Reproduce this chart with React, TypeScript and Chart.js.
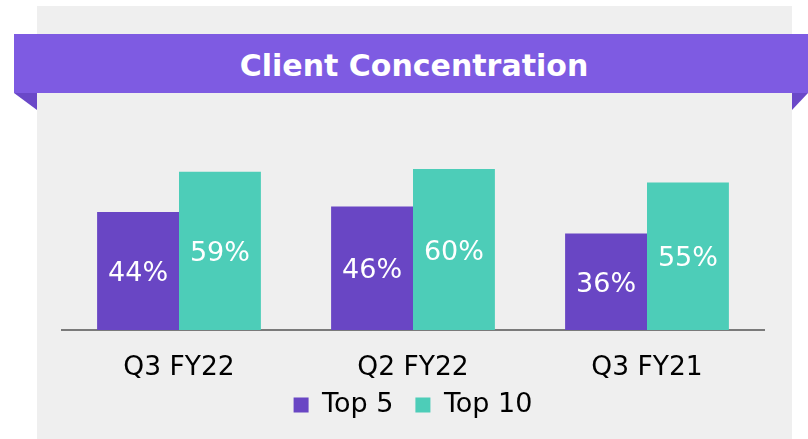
import React, { useEffect, useRef } from "react";
import { Chart, registerables } from "chart.js";

Chart.register(...registerables);

const categories = ["Q3 FY22", "Q2 FY22", "Q3 FY21"];
const top5 = [44, 46, 36];
const top10 = [59, 60, 55];
const seriesNames = ["Top 5", "Top 10"];
const title = "Client Concentration";

const PURPLE = "#6946C4";
const TEAL = "#4DCDB8";
const FONT = "'DejaVu Sans', Verdana, sans-serif";

const valueLabels = {
  id: "valueLabels",
  afterDatasetsDraw(chart: any) {
    const ctx = chart.ctx;
    ctx.save();
    ctx.fillStyle = "#ffffff";
    ctx.font = `27px ${FONT}`;
    ctx.textAlign = "center";
    ctx.textBaseline = "middle";
    chart.data.datasets.forEach((ds: any, di: number) => {
      const meta = chart.getDatasetMeta(di);
      meta.data.forEach((bar: any, i: number) => {
        const y = (bar.y + bar.base) / 2 + 3;
        ctx.fillText(`${ds.data[i]}%`, bar.x, y);
      });
    });
    ctx.restore();
  },
};

// category labels under the axis, positioned by the x scale
const categoryLabels = {
  id: "categoryLabels",
  afterDraw(chart: any) {
    const ctx = chart.ctx;
    const xs = chart.scales.x;
    ctx.save();
    ctx.fillStyle = "#000000";
    ctx.font = `26.5px ${FONT}`;
    ctx.textAlign = "center";
    ctx.textBaseline = "middle";
    (chart.data.labels as string[]).forEach((lab: string, i: number) => {
      ctx.fillText(lab, xs.getPixelForTick(i), chart.chartArea.bottom + 38);
    });
    ctx.restore();
  },
};

export default function App() {
  const ref = useRef<HTMLCanvasElement | null>(null);
  useEffect(() => {
    if (!ref.current) return;
    const LEG_PAD = 22;
    const chart = new Chart(ref.current, {
      type: "bar",
      data: {
        labels: categories,
        datasets: [
          { label: seriesNames[0], data: top5, backgroundColor: PURPLE, categoryPercentage: 0.7, barPercentage: 1.0 },
          { label: seriesNames[1], data: top10, backgroundColor: TEAL, categoryPercentage: 0.7, barPercentage: 1.0 },
        ],
      },
      options: {
        animation: false,
        responsive: false,
        maintainAspectRatio: false,
        layout: { padding: { left: 62, right: 44, top: 169, bottom: 10.5 } },
        scales: {
          x: {
            grid: { display: false, drawTicks: false },
            border: { display: true, color: "#7a7a7a", width: 2 },
            ticks: { display: false },
            afterFit: (scale: any) => {
              scale.height = 405 - 13.5 - LEG_PAD - 330;
            },
          },
          y: { display: false, min: 0, max: 60 },
        },
        plugins: {
          legend: {
            position: "bottom",
            labels: {
              color: "#000000",
              font: { family: FONT, size: 27 },
              boxWidth: 15,
              boxHeight: 15,
              padding: LEG_PAD,
            },
          },
          tooltip: { enabled: false },
          title: { display: false },
        },
      },
      plugins: [valueLabels, categoryLabels],
    });
    return () => chart.destroy();
  }, []);

  return (
    <div style={{ position: "fixed", left: 0, top: 0, width: 808, height: 439, background: "#ffffff", overflow: "hidden" }}>
      <div style={{ position: "absolute", left: 37, top: 6, width: 755, height: 433, background: "#efefef" }} />
      <div
        style={{
          position: "absolute",
          left: 14,
          top: 34,
          width: 794,
          height: 59,
          background: "#7E5BE2",
          color: "#ffffff",
          display: "flex",
          alignItems: "center",
          justifyContent: "center",
          fontFamily: FONT,
          fontWeight: "bold",
          fontSize: 30,
          paddingTop: 4,
          paddingLeft: 6,
          boxSizing: "border-box",
        }}
      >
        {title}
      </div>
      <svg style={{ position: "absolute", left: 0, top: 0 }} width={808} height={439}>
        <polygon points="14,93 37,93 37,110" fill="#6A48C8" />
        <polygon points="792,93 808,93 792,110" fill="#6A48C8" />
      </svg>
      <canvas ref={ref} width={808} height={439} style={{ position: "absolute", left: 0, top: 0, width: 808, height: 439 }} />
    </div>
  );
}
